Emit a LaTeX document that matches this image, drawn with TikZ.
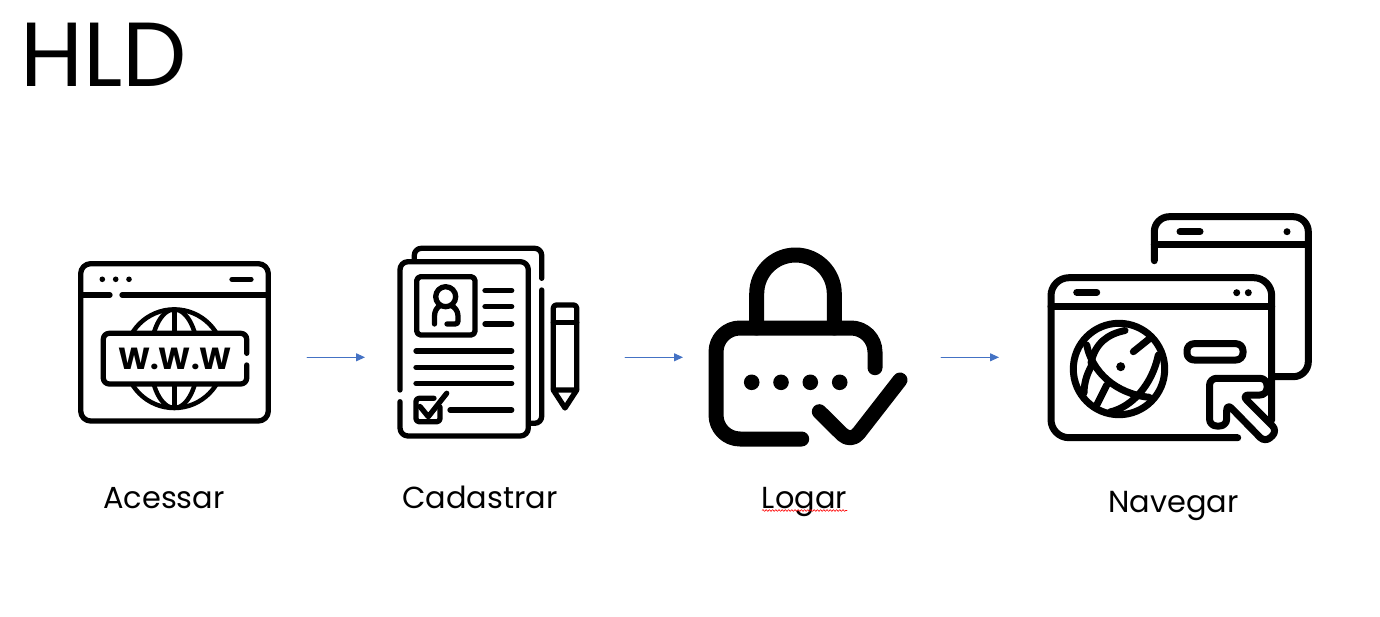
\documentclass[tikz,border=0pt]{standalone}
\usepackage{fontspec}
\setmainfont{Poppins}
\usetikzlibrary{arrows.meta,positioning,decorations.pathmorphing}
\definecolor{arrowblue}{RGB}{68,114,196}

\begin{document}
\begin{tikzpicture}[x=1pt,y=-1pt,line cap=round,line join=round,
  iconbox/.style={minimum height=200pt,inner sep=0pt,outer sep=0pt},
  flow/.style={color=arrowblue,line width=1pt,-{Triangle[length=9pt,width=8pt,fill=arrowblue]}},
  caption/.style={anchor=base,inner sep=0pt,font=\fontsize{30.4}{32}\selectfont},
  thinline/.style={line width=5.3pt},
  midline/.style={line width=7pt},
  thickline/.style={line width=15pt}]
\useasboundingbox (0,0) rectangle (1380,617);

\node[anchor=base west,inner sep=0pt,font=\fontsize{91}{91}\selectfont] (title) at (20.5,86.5) {HLD};

\node[iconbox,minimum width=266pt] (acessar) at (174,357.3) {};
\node[iconbox,minimum width=260pt] (cadastrar) at (495,357.3) {};
\node[iconbox,minimum width=258pt] (logar) at (812,357.3) {};
\node[iconbox,minimum width=361pt] (navegar) at (1179.5,357.3) {};

\path[flow] (acessar) edge (cadastrar)
    (cadastrar) edge (logar)
    (logar) edge (navegar);

\node[caption] (acessarlabel) at (164,508) {Acessar};
\node[caption] (cadastrarlabel) at (480,508) {Cadastrar};
\node[caption] (logarlabel) at (804.5,508) {Logar};
\node[caption] (navegarlabel) at (1173.5,512) {Navegar};
\draw[red,line width=0.6pt,decorate,decoration={snake,amplitude=0.9pt,segment length=3.2pt}]
    (762,510.5) -- (847,510.5);

% www window
\draw[thinline,rounded corners=10pt] (80.7,263.7) rectangle (268.3,421);
\draw[thinline] (81,295) -- (110,295) (122,295) -- (268,295);
\foreach \x in {102.3,115.7,129} \fill (\x,279.3) circle (2.8);
\draw[thinline] (232,279.3) -- (251,279.3);
\draw[line width=4.5pt] (174.3,358.7) circle (49.3);
\draw[line width=4.5pt] (174.3,358.7) ellipse (24 and 49.3);
\draw[line width=4.5pt] (174.3,309.4) -- (174.3,408);
\fill[white,rounded corners=6pt] (103.3,333.3) rectangle (246.7,384);
\draw[thinline,rounded corners=6pt] (246.7,353.3) -- (246.7,333.3) -- (103.3,333.3) -- (103.3,384) -- (246.7,384) -- (246.7,365);
\node[inner sep=0pt,font=\bfseries\fontsize{30.5}{30}\selectfont] (www) at (175,359) {W.W.W};

% pages
\draw[thinline,rounded corners=8pt] (400,390) -- (400,261.7) -- (528.3,261.7) -- (528.3,436) -- (400,436) -- (400,401.7);
\draw[thinline,rounded corners=7pt] (414.3,260) -- (414.3,248.3) -- (541.7,248.3) -- (541.7,278.3);
\draw[thinline,rounded corners=7pt] (541.7,290) -- (541.7,423.3) -- (530,423.3);
\draw[thinline,rounded corners=4pt] (416.7,276.7) rectangle (475,335);
\draw[thinline] (445.7,296.7) circle (10);
\draw[thinline] (434.5,324) -- (434.5,316) .. controls (434.5,311) and (437,307.5) .. (440,305.5);
\draw[thinline] (451.5,305.5) .. controls (455,307.5) and (458,311) .. (458,316) -- (458,321) .. controls (458,323) and (457,324) .. (455,324) -- (447,324);
\foreach \y in {290.7,306.7,324} \draw[thinline] (485,\y) -- (511.7,\y);
\foreach \y in {351,367.3,383.3} \draw[thinline] (416,\y) -- (511.7,\y);
\draw[thinline,rounded corners=3pt] (440,407) -- (440,421.7) -- (416,421.7) -- (416,398.3) -- (434,398.3);
\draw[thinline] (420,406.5) -- (428.3,416.7) -- (446.7,393.3);
\draw[thinline] (450,410) -- (511.7,410);
\draw[thinline,rounded corners=3pt] (553.3,390) -- (553.3,305) -- (576.7,305) -- (576.7,390);
\draw[thinline] (553.3,322.3) -- (576.7,322.3);
\draw[thinline] (553.3,390) -- (576.7,390) -- (565,408) -- cycle;

% padlock
\draw[thickline,rounded corners=24pt] (875,367.7) -- (875,328) -- (716,328) -- (716,439) -- (801.7,439);
\draw[thickline,rounded corners=38.8pt] (756.7,328) -- (756.7,255) -- (834.3,255) -- (834.3,328);
\foreach \x in {751.7,781,810.3,839.7} \fill (\x,382.3) circle (7.8);
\draw[thickline,rounded corners=12pt] (819.3,411.7) -- (851,443) -- (900,380);

% windows and cursor
\draw[midline,rounded corners=15pt] (1154.3,260.7) -- (1154.3,216.7) -- (1308.3,216.7) -- (1308.3,376.7) -- (1275,376.7);
\draw[midline] (1154.3,245) -- (1308.3,245);
\draw[midline] (1180,231.7) -- (1200,231.7);
\fill (1287,231.7) circle (3.5);
\draw[midline,rounded corners=18pt] (1271.7,420) -- (1271.7,277.7) -- (1051,277.7) -- (1051,437.7) -- (1237.7,437.7);
\draw[midline] (1051,306.7) -- (1271.7,306.7);
\draw[midline] (1076.7,292.3) -- (1096.7,292.3);
\foreach \x in {1236.7,1248.3} \fill (\x,292.7) circle (3.5);
\draw[midline] (1119,369) circle (45.7);
\draw[midline] (1086.7,345) .. controls (1092,372) and (1116,394) .. (1149.3,397.3);
\draw[midline] (1091,363) .. controls (1095,343) and (1108,334) .. (1125,330.5);
\draw[midline] (1158.3,355) .. controls (1152,385) and (1132,407) .. (1110,412);
\draw[midline] (1133.3,351.7) -- (1150,338.3);
\draw[midline] (1106.7,385) -- (1096.7,405);
\draw[midline] (1092,365) .. controls (1086,375) and (1084,385) .. (1084,393);
\fill (1120.7,366.7) circle (4.5);
\draw[midline,rounded corners=7pt] (1187,343.7) rectangle (1243,360);
\draw[midline,fill=white,rounded corners=7pt] (1209.5,378.3) -- (1267,378.3) -- (1267,395) -- (1241.7,395) -- (1277.5,431) -- (1265,442.5) -- (1226.7,403.3) -- (1226.7,426) -- (1209.5,426) -- cycle;
\end{tikzpicture}
\end{document}
